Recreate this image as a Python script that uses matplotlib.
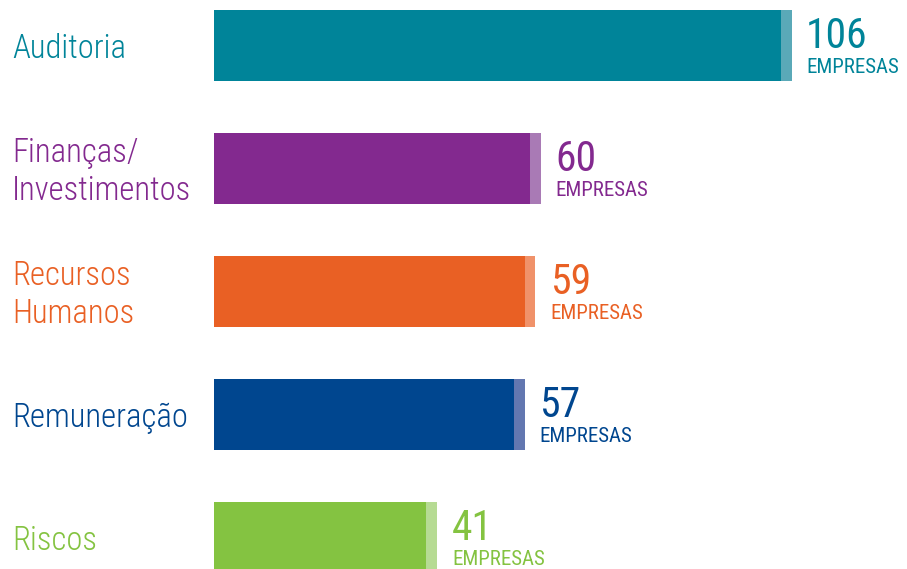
import matplotlib
matplotlib.use("Agg")
import matplotlib.pyplot as plt

categories = ["Auditoria", "Finanças/\nInvestimentos", "Recursos\nHumanos", "Remuneração", "Riscos"]
values = [106, 60, 59, 57, 41]
colors = ["#008499", "#83298f", "#e96024", "#00468f", "#84c341"]
cap_colors = ["#5aa9b8", "#a97ab5", "#f0926a", "#6377b0", "#b6db93"]
unit = "EMPRESAS"

plt.rcParams["font.family"] = ["Roboto Condensed", "Liberation Sans Narrow", "Roboto", "DejaVu Sans"]

fig = plt.figure(figsize=(9.07, 5.69), dpi=100)
ax = fig.add_axes([214 / 907, 0, 1 - 214 / 907, 1])
ax.set_xlim(0, 127.2)
ax.set_ylim(4.256, -0.37)
ax.axis("off")

cap = 2.0
h = 0.58
for i, (v, c, cc) in enumerate(zip(values, colors, cap_colors)):
    ax.barh(i, v - cap, height=h, color=c)
    ax.barh(i, cap, height=h, color=cc, left=v - cap)
    ax.text(v + 2.7, i + 0.02, str(v), color=c, fontsize=30, fontweight="normal",
            va="baseline", ha="left")
    ax.text(v + 2.7, i + 0.225, unit, color=c, fontsize=15, va="baseline", ha="left")
    ax.text(-202 / 5.45, i + 0.03, categories[i], color=c, fontsize=23.5, va="center",
            ha="left", linespacing=1.22, fontweight="light", clip_on=False)

fig.savefig("out.png", dpi=100)
